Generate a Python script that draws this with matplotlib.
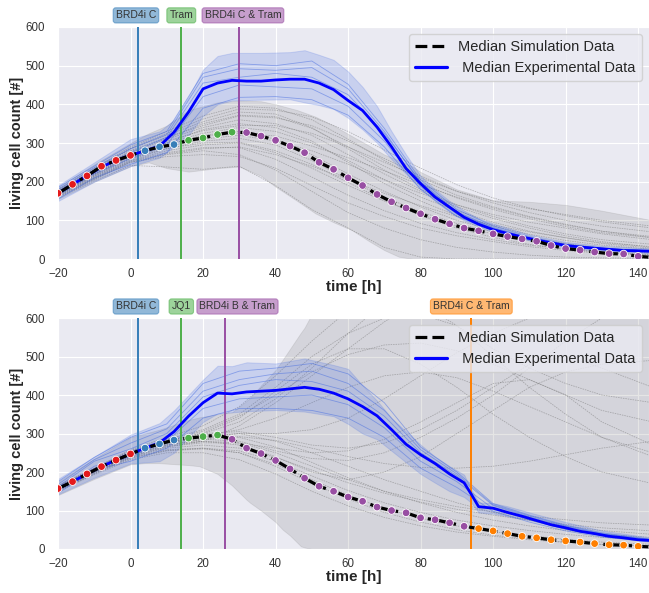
import numpy as np
import matplotlib
matplotlib.use("Agg")
import matplotlib.pyplot as plt
import matplotlib.transforms as mtransforms
from matplotlib.lines import Line2D
import seaborn as sns

sns.set_style("darkgrid")
plt.rcParams['font.family'] = ['Liberation Sans', 'DejaVu Sans']

# ---------------- data ----------------
t_grid = np.arange(-20, 145, 4)          # sampling times of medians [h]

# top panel
top_treat_t = [2, 14, 30]
top_treat_lbl = ["BRD4i C", "Tram", "BRD4i C & Tram"]
top_sim_med = [170, 193, 215, 240, 255, 268, 280, 290, 296, 307, 313, 322, 328,
               327, 318, 307, 292, 275, 250, 232, 210, 190, 167, 148, 132, 117,
               103, 91, 80, 73, 65, 58, 52, 46, 35, 27, 23, 18, 14, 13, 7, 4]
top_exp_med = [170, 193, 215, 238, 255, 268, 280, 292, 328, 380, 440, 455, 462,
               460, 460, 463, 465, 465, 455, 438, 410, 384, 341, 290, 234, 195,
               160, 134, 108, 90, 76, 66, 57, 49, 42, 35, 31, 28, 25, 22, 21, 20]

tb_top = [-20, -10, 0, 8, 12, 16, 20, 24, 28, 36, 44, 48, 52, 56, 60, 64, 68, 72,
          76, 80, 84, 88, 92, 96, 100, 110, 120, 130, 144]
top_exp_hi = [190, 250, 310, 330, 360, 420, 490, 525, 533, 533, 535, 540, 528, 515,
              485, 445, 395, 330, 270, 215, 180, 150, 125, 105, 92, 63, 44, 34, 27]
top_exp_lo = [150, 200, 240, 262, 290, 320, 370, 400, 410, 412, 413, 405, 398, 388,
              365, 335, 300, 258, 220, 182, 150, 122, 100, 84, 70, 48, 29, 21, 15]

tg_sim_top = [-20, -10, 0, 5, 10, 16, 24, 30, 36, 40, 46, 51, 56, 61, 66, 70, 74,
              78, 80, 90, 100, 110, 120, 130, 144]
top_sim_hi = [185, 245, 300, 325, 345, 385, 405, 410, 408, 400, 385, 368, 345, 318,
              292, 270, 255, 238, 225, 180, 152, 148, 140, 125, 100]
top_sim_lo = [155, 200, 240, 250, 235, 226, 235, 239, 215, 187, 150, 118, 95, 75,
              45, 23, 6, 0, 0, 0, 0, 0, 0, 0, 0]

t_rep = [-20, -10, 0, 10, 20, 30, 40, 50, 60, 70, 80, 90, 100, 110, 120, 130, 144]
top_exp_reps = [
    [185, 240, 295, 330, 480, 505, 500, 512, 452, 338, 205, 128, 86, 58, 38, 28, 22],
    [175, 230, 275, 315, 455, 470, 480, 470, 425, 325, 200, 122, 82, 55, 36, 27, 21],
    [165, 220, 260, 295, 420, 450, 445, 440, 395, 305, 188, 116, 78, 52, 33, 25, 19],
    [155, 210, 245, 275, 390, 418, 420, 412, 372, 290, 180, 110, 74, 49, 31, 23, 18],
    [180, 236, 285, 322, 470, 492, 488, 495, 440, 330, 196, 120, 80, 54, 35, 26, 20],
]
top_sim_traces = [
    [175, 225, 275, 310, 340, 360, 350, 320, 270, 220, 175, 135, 105, 80, 60, 45, 30],
    [170, 220, 265, 295, 320, 330, 310, 270, 220, 175, 135, 100, 75, 55, 40, 28, 18],
    [165, 210, 255, 280, 295, 300, 275, 235, 190, 150, 115, 85, 65, 48, 35, 25, 15],
    [180, 235, 290, 330, 370, 395, 390, 360, 310, 255, 205, 165, 135, 110, 90, 72, 55],
    [160, 205, 250, 265, 270, 265, 235, 190, 145, 110, 80, 60, 45, 32, 22, 15, 10],
    [172, 222, 270, 300, 325, 340, 330, 300, 255, 205, 160, 125, 95, 72, 55, 40, 28],
    [168, 215, 262, 290, 310, 320, 305, 280, 245, 205, 170, 140, 115, 95, 80, 65, 50],
    [178, 230, 285, 320, 355, 380, 375, 340, 285, 230, 180, 140, 110, 85, 65, 50, 38],
    [163, 208, 250, 270, 280, 270, 230, 175, 120, 80, 50, 30, 18, 10, 5, 3, 2],
    [175, 228, 280, 315, 345, 370, 365, 345, 305, 260, 215, 175, 150, 130, 115, 100, 85],
    [157, 202, 242, 238, 232, 240, 190, 128, 80, 30, 5, 0, 0, 0, 0, 0, 0],
    [170, 218, 268, 300, 335, 350, 340, 305, 250, 195, 150, 112, 85, 64, 48, 36, 25],
    [166, 212, 258, 285, 305, 312, 295, 255, 205, 160, 122, 92, 70, 52, 38, 28, 20],
    [174, 226, 278, 312, 350, 372, 368, 338, 290, 240, 195, 158, 128, 104, 84, 68, 55],
    [169, 217, 266, 296, 318, 326, 318, 292, 262, 228, 192, 160, 132, 108, 88, 72, 58],
    [161, 206, 252, 272, 285, 290, 270, 240, 205, 170, 138, 110, 88, 70, 55, 42, 32],
    [177, 232, 286, 325, 362, 388, 385, 368, 330, 282, 235, 192, 158, 132, 112, 96, 80],
    [167, 214, 260, 286, 300, 302, 280, 245, 198, 152, 112, 80, 56, 38, 26, 17, 10],
    [171, 220, 270, 305, 332, 345, 345, 325, 290, 250, 210, 175, 145, 120, 100, 85, 70],
    [164, 209, 254, 275, 288, 288, 258, 212, 165, 125, 92, 68, 50, 36, 26, 18, 12],
]

# bottom panel
bot_treat_t = [2, 14, 26, 94]
bot_treat_lbl = ["BRD4i C", "JQ1", "BRD4i B & Tram", "BRD4i C & Tram"]
bot_sim_med = [157, 175, 195, 214, 231, 247, 262, 273, 283, 288, 292, 296, 285,
               262, 248, 230, 208, 184, 163, 150, 135, 124, 109, 100, 94, 81, 76,
               68, 59, 53, 47, 40, 33, 29, 24, 21, 18, 14, 11, 10, 7, 5]
t_exp_bot = [-20, -16, -12, -8, -4, 0, 4, 8, 12, 16, 20, 24, 28, 32, 36, 40, 44,
             48, 52, 56, 60, 64, 68, 72, 76, 80, 84, 88, 92, 94, 96, 100, 104, 108,
             112, 116, 120, 124, 128, 132, 136, 140, 144]
bot_exp_med = [157, 175, 195, 214, 231, 247, 262, 276, 305, 345, 380, 405, 403,
               408, 410, 412, 416, 420, 415, 405, 390, 370, 346, 310, 272, 245,
               222, 195, 172, 142, 110, 106, 95, 85, 74, 63, 55, 46, 40, 33, 29,
               24, 22]

tb_bot = [-20, -10, 0, 8, 12, 16, 20, 24, 28, 32, 40, 48, 56, 60, 64, 68, 72, 76,
          80, 84, 88, 92, 94, 96, 100, 104, 110, 120, 130, 144]
bot_exp_hi = [182, 240, 297, 327, 360, 400, 440, 476, 475, 485, 482, 495, 478, 468,
              425, 385, 340, 305, 271, 240, 215, 193, 154, 121, 119, 111, 95, 70, 48, 29]
bot_exp_lo = [142, 185, 222, 228, 250, 290, 330, 352, 355, 358, 361, 357, 345, 325,
              300, 285, 255, 225, 195, 172, 150, 135, 120, 95, 92, 85, 75, 52, 35, 18]

tg_sim_bot = [-20, -10, 0, 4, 8, 16, 19, 24, 26, 28, 32, 33, 36, 40, 42, 44, 47,
              48, 50, 52, 56, 144]
bot_sim_hi = [175, 235, 290, 300, 310, 335, 342, 350, 352, 355, 385, 392, 425, 465,
              492, 520, 562, 575, 610, 640, 760, 1000]
bot_sim_lo = [140, 182, 220, 223, 223, 218, 215, 195, 180, 165, 128, 120, 100, 70,
              50, 35, 7, 4, 0, 0, 0, 0]

bot_exp_reps = [
    [175, 238, 290, 325, 430, 462, 470, 482, 455, 380, 265, 200, 118, 88, 62, 42, 25],
    [162, 228, 260, 300, 395, 425, 440, 435, 410, 345, 250, 190, 113, 83, 58, 39, 23],
    [150, 215, 240, 280, 365, 390, 395, 400, 375, 315, 228, 175, 105, 76, 51, 35, 20],
    [145, 205, 228, 262, 340, 365, 365, 360, 340, 290, 210, 160, 98, 70, 47, 31, 18],
    [168, 232, 275, 312, 410, 440, 455, 462, 430, 360, 258, 195, 115, 86, 60, 40, 24],
]
bot_sim_traces = [
    [160, 205, 250, 275, 290, 300, 280, 250, 215, 180, 150, 120, 95, 75, 60, 48, 38],
    [155, 200, 240, 265, 280, 320, 380, 450, 520, 590, 650, 700, 760, 800, 840, 880, 920],
    [158, 203, 245, 270, 285, 290, 265, 225, 185, 150, 120, 95, 75, 60, 48, 38, 30],
    [150, 195, 235, 255, 260, 250, 220, 180, 140, 105, 80, 60, 45, 35, 25, 18, 12],
    [162, 208, 255, 285, 310, 350, 420, 500, 560, 600, 610, 580, 520, 470, 430, 400, 380],
    [157, 202, 245, 270, 285, 280, 255, 235, 230, 250, 290, 340, 400, 470, 540, 600, 650],
    [160, 205, 248, 272, 280, 270, 240, 200, 180, 200, 240, 300, 360, 420, 460, 480, 490],
    [165, 210, 258, 290, 320, 370, 450, 540, 620, 660, 640, 580, 500, 420, 350, 290, 240],
    [155, 198, 240, 262, 270, 262, 238, 205, 172, 145, 122, 103, 88, 75, 64, 55, 47],
    [160, 206, 250, 278, 300, 330, 390, 470, 560, 640, 700, 760, 800, 830, 860, 880, 900],
    [152, 196, 238, 258, 262, 250, 215, 170, 130, 95, 70, 50, 36, 26, 18, 12, 8],
    [158, 204, 248, 276, 295, 310, 340, 380, 420, 450, 460, 445, 410, 370, 330, 290, 250],
    [163, 210, 255, 282, 300, 305, 290, 270, 262, 275, 310, 360, 420, 480, 500, 470, 420],
    [154, 199, 242, 266, 276, 275, 262, 250, 255, 285, 330, 380, 430, 440, 400, 330, 270],
    [161, 207, 252, 280, 302, 340, 410, 480, 520, 520, 480, 420, 350, 290, 240, 200, 170],
    [150, 193, 232, 250, 250, 232, 195, 150, 112, 82, 60, 44, 33, 24, 17, 12, 8],
    [159, 205, 250, 276, 292, 300, 300, 310, 340, 390, 450, 510, 560, 600, 640, 660, 680],
    [156, 201, 244, 268, 280, 276, 250, 215, 180, 150, 128, 110, 96, 85, 76, 68, 62],
    [153, 197, 237, 256, 262, 255, 228, 190, 152, 120, 95, 75, 60, 48, 38, 30, 24],
    [159, 204, 249, 274, 288, 292, 282, 262, 240, 222, 212, 210, 215, 228, 245, 262, 280],
    [162, 209, 254, 284, 306, 345, 400, 460, 505, 530, 535, 515, 480, 440, 400, 360, 330],
]

# ---------------- styling ----------------
phase_colors = ['#e41a1c', '#377eb8', '#4daf4a', '#984ea3', '#ff7f00']
XLIM = (-20, 143)

fig = plt.figure(figsize=(6.49, 5.93), dpi=100)
ax1 = fig.add_axes([0.0894, 0.5632, 0.9106, 0.3913])
ax2 = fig.add_axes([0.0894, 0.0742, 0.9106, 0.3895])


def draw(ax, treat_t, treat_lbl, lbl_shift, sim_med, t_exp, exp_med,
         tb, exp_hi, exp_lo, tgs, sim_hi, sim_lo, exp_reps, sim_traces):
    # simulation ensemble
    ax.fill_between(tgs, sim_lo, sim_hi, color='gray', alpha=0.2,
                    edgecolor='gray', lw=0.6, zorder=1)
    for tr in sim_traces:
        ax.plot(t_rep, tr, color='0.45', lw=0.55, ls=(0, (2, 1.2)), alpha=0.5, zorder=1.5)
    # experimental ensemble
    ax.fill_between(tb, exp_lo, exp_hi, color='royalblue', alpha=0.2,
                    edgecolor='royalblue', lw=0.7, zorder=2)
    for tr in exp_reps:
        ax.plot(t_rep, tr, color='royalblue', lw=0.6, alpha=0.5, zorder=2.5)
    ax.plot(t_exp, exp_med, color='blue', lw=2.0, zorder=4)
    # treatment lines
    for i, tt in enumerate(treat_t):
        ax.axvline(tt, color=phase_colors[i + 1], lw=1.4, zorder=3)
    # simulation median
    ax.plot(t_grid, sim_med, color='black', lw=2.3, ls='-.', zorder=5)
    phase = np.searchsorted(np.array(treat_t), t_grid, side='left')
    cols = [phase_colors[p] for p in phase]
    ax.scatter(t_grid, sim_med, c=cols, s=30, edgecolors='white',
               linewidths=0.6, zorder=6, clip_on=True)
    # treatment labels
    trans = mtransforms.blended_transform_factory(ax.transData, ax.transAxes)
    for i, (tt, lb) in enumerate(zip(treat_t, treat_lbl)):
        ax.text(tt + lbl_shift[i], 1.05, lb, transform=trans, ha='center', va='center',
                fontsize=7.5, color='#333333',
                bbox=dict(boxstyle='round,pad=0.25', fc=phase_colors[i + 1],
                          ec=phase_colors[i + 1], alpha=0.55, lw=0.8))
    ax.set_xlim(*XLIM)
    ax.set_ylim(0, 600)
    ax.set_xticks(range(-20, 141, 20))
    ax.set_yticks(range(0, 601, 100))
    ax.tick_params(axis='x', labelsize=8.3, pad=3, colors='#333333')
    ax.tick_params(axis='y', labelsize=8.3, pad=6, colors='#333333')
    ax.set_xlabel('time [h]', fontsize=11, fontweight='bold', labelpad=0)
    ax.set_ylabel('living cell count [#]', fontsize=10.5, fontweight='bold', labelpad=1)
    handles = [Line2D([], [], color='black', ls='--', lw=2.3),
               Line2D([], [], color='blue', lw=2.3)]
    ax.legend(handles, ['Median Simulation Data', ' Median Experimental Data'],
              loc='upper right', fontsize=10.5, frameon=True, handlelength=2.2,
              borderaxespad=0.5)


draw(ax1, top_treat_t, top_treat_lbl, [-0.5, 0, 1], top_sim_med, t_grid, top_exp_med,
     tb_top, top_exp_hi, top_exp_lo, tg_sim_top, top_sim_hi, top_sim_lo,
     top_exp_reps, top_sim_traces)
draw(ax2, bot_treat_t, bot_treat_lbl, [-0.5, 0, 3.5, 0], bot_sim_med, t_exp_bot, bot_exp_med,
     tb_bot, bot_exp_hi, bot_exp_lo, tg_sim_bot, bot_sim_hi, bot_sim_lo,
     bot_exp_reps, bot_sim_traces)

fig.savefig('out.png', dpi=100)
